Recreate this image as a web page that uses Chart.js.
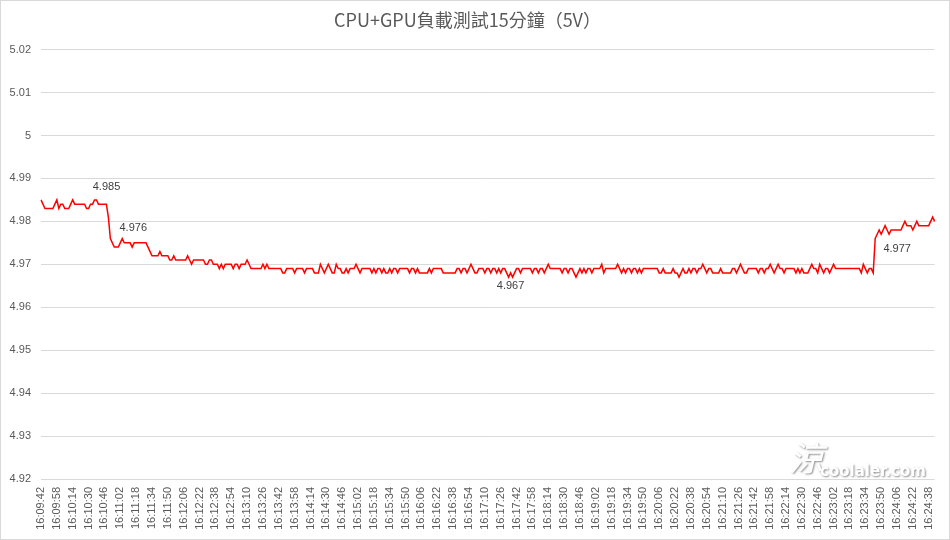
<!DOCTYPE html>
<html>
<head>
<meta charset="utf-8">
<script src="https://cdn.jsdelivr.net/npm/chart.js@4.4.1/dist/chart.umd.min.js"></script>
<style>
  html, body { margin: 0; padding: 0; background: #fff; }
  #wrap { width: 950px; height: 540px; }
</style>
</head>
<body>
<div id="wrap"><canvas id="chart" width="950" height="540"></canvas></div>
<script>
// CPU+GPU 負載測試 5V 電壓曲線

const chartTitle = 'CPU+GPU負載測試15分鐘（5V）';
const startTime = '16:09:42';
const sampleSeconds = 2;
const labelEvery = 8;

// 讀值 (V), 每 2 秒一筆
const voltage = [
    4.985, 4.984, 4.983, 4.983, 4.983, 4.983, 4.983, 4.984, 4.985, 4.983,
    4.984, 4.984, 4.983, 4.983, 4.983, 4.984, 4.985, 4.984, 4.984, 4.984,
    4.984, 4.984, 4.984, 4.983, 4.983, 4.984, 4.984, 4.985, 4.985, 4.984,
    4.984, 4.984, 4.984, 4.984, 4.981, 4.976, 4.975, 4.974, 4.974, 4.974,
    4.975, 4.976, 4.975, 4.975, 4.975, 4.975, 4.974, 4.975, 4.975, 4.975,
    4.975, 4.975, 4.975, 4.975, 4.974, 4.973, 4.972, 4.972, 4.972, 4.972,
    4.973, 4.972, 4.972, 4.972, 4.972, 4.971, 4.971, 4.972, 4.971, 4.971,
    4.971, 4.971, 4.971, 4.971, 4.972, 4.971, 4.970, 4.971, 4.971, 4.971,
    4.971, 4.971, 4.971, 4.970, 4.970, 4.971, 4.971, 4.970, 4.970, 4.970,
    4.969, 4.970, 4.969, 4.970, 4.970, 4.970, 4.970, 4.969, 4.970, 4.970,
    4.969, 4.970, 4.970, 4.970, 4.971, 4.970, 4.969, 4.969, 4.969, 4.969,
    4.969, 4.969, 4.970, 4.969, 4.970, 4.969, 4.969, 4.969, 4.969, 4.969,
    4.969, 4.969, 4.968, 4.968, 4.969, 4.969, 4.969, 4.969, 4.968, 4.969,
    4.969, 4.969, 4.969, 4.968, 4.969, 4.969, 4.969, 4.969, 4.968, 4.968,
    4.968, 4.970, 4.969, 4.968, 4.969, 4.970, 4.969, 4.968, 4.968, 4.970,
    4.969, 4.969, 4.968, 4.968, 4.969, 4.968, 4.969, 4.969, 4.969, 4.970,
    4.969, 4.968, 4.969, 4.969, 4.969, 4.969, 4.969, 4.968, 4.969, 4.968,
    4.969, 4.969, 4.968, 4.969, 4.968, 4.968, 4.969, 4.968, 4.969, 4.969,
    4.968, 4.969, 4.969, 4.969, 4.969, 4.969, 4.968, 4.969, 4.969, 4.968,
    4.969, 4.968, 4.968, 4.968, 4.968, 4.968, 4.969, 4.968, 4.969, 4.969,
    4.969, 4.969, 4.969, 4.968, 4.968, 4.968, 4.968, 4.968, 4.968, 4.968,
    4.969, 4.969, 4.968, 4.969, 4.969, 4.968, 4.969, 4.970, 4.969, 4.968,
    4.968, 4.969, 4.969, 4.969, 4.968, 4.969, 4.969, 4.968, 4.969, 4.969,
    4.968, 4.969, 4.968, 4.969, 4.969, 4.968, 4.967, 4.968, 4.967, 4.968,
    4.969, 4.969, 4.968, 4.969, 4.969, 4.969, 4.969, 4.969, 4.968, 4.969,
    4.969, 4.968, 4.969, 4.969, 4.968, 4.969, 4.970, 4.969, 4.969, 4.969,
    4.969, 4.969, 4.969, 4.968, 4.969, 4.969, 4.968, 4.969, 4.969, 4.968,
    4.967, 4.968, 4.969, 4.968, 4.969, 4.968, 4.969, 4.969, 4.968, 4.969,
    4.969, 4.969, 4.969, 4.970, 4.968, 4.969, 4.969, 4.969, 4.969, 4.969,
    4.969, 4.970, 4.969, 4.968, 4.969, 4.968, 4.969, 4.969, 4.968, 4.969,
    4.969, 4.968, 4.969, 4.968, 4.969, 4.969, 4.969, 4.969, 4.969, 4.969,
    4.969, 4.969, 4.968, 4.968, 4.969, 4.968, 4.968, 4.968, 4.968, 4.969,
    4.968, 4.968, 4.967, 4.968, 4.969, 4.968, 4.968, 4.969, 4.968, 4.969,
    4.969, 4.968, 4.969, 4.969, 4.970, 4.969, 4.968, 4.969, 4.969, 4.968,
    4.968, 4.968, 4.968, 4.969, 4.968, 4.968, 4.968, 4.968, 4.968, 4.969,
    4.969, 4.968, 4.969, 4.970, 4.969, 4.968, 4.968, 4.969, 4.969, 4.969,
    4.969, 4.969, 4.968, 4.969, 4.969, 4.968, 4.969, 4.969, 4.970, 4.969,
    4.968, 4.969, 4.970, 4.969, 4.969, 4.968, 4.969, 4.969, 4.969, 4.969,
    4.969, 4.968, 4.969, 4.968, 4.969, 4.968, 4.968, 4.968, 4.969, 4.970,
    4.969, 4.969, 4.968, 4.970, 4.969, 4.968, 4.969, 4.969, 4.968, 4.969,
    4.970, 4.969, 4.969, 4.969, 4.969, 4.969, 4.969, 4.969, 4.969, 4.969,
    4.969, 4.969, 4.969, 4.969, 4.968, 4.970, 4.969, 4.968, 4.969, 4.969,
    4.968, 4.976, 4.977, 4.978, 4.977, 4.978, 4.979, 4.978, 4.977, 4.978,
    4.978, 4.978, 4.978, 4.978, 4.978, 4.979, 4.980, 4.979, 4.979, 4.979,
    4.978, 4.979, 4.980, 4.979, 4.979, 4.979, 4.979, 4.979, 4.979, 4.980,
    4.981, 4.980
];

// 有標示數值的點 (index)
const labelPoints = [28, 41, 238, 422];

// 時間軸標籤
function buildTimes(start, count, step) {
    const parts = start.split(':').map(Number);
    let t = parts[0] * 3600 + parts[1] * 60 + parts[2];
    const out = [];
    const pad = n => String(n).padStart(2, '0');
    for (let i = 0; i < count; i++) {
        out.push(pad(Math.floor(t / 3600)) + ':' + pad(Math.floor(t / 60) % 60) + ':' + pad(t % 60));
        t += step;
    }
    return out;
}
const times = buildTimes(startTime, voltage.length, sampleSeconds);

const textColor = '#595959';
const gridColor = '#d9d9d9';
const tickFont = { family: "'Liberation Sans', Arial, sans-serif", size: 11 };

// 資料標籤
const pointLabelPlugin = {
    id: 'pointLabels',
    afterDatasetsDraw(chart, args, opts) {
        const meta = chart.getDatasetMeta(0);
        const ctx = chart.ctx;
        ctx.save();
        ctx.font = "11px 'Liberation Sans', Arial, sans-serif";
        ctx.fillStyle = '#404040';
        ctx.textAlign = 'center';
        ctx.textBaseline = 'middle';
        labelPoints.forEach((idx, k) => {
            const pt = meta.data[idx];
            const off = opts.offsets[k];
            ctx.fillText(voltage[idx].toFixed(3), pt.x + off[0], pt.y + off[1]);
        });
        ctx.restore();
    }
};

// 外框 + 浮水印
const framePlugin = {
    id: 'frame',
    beforeDraw(chart) {
        const ctx = chart.ctx;
        ctx.save();
        ctx.fillStyle = '#ffffff';
        ctx.fillRect(0, 0, chart.width, chart.height);
        ctx.restore();
    },
    afterDraw(chart) {
        const ctx = chart.ctx;
        ctx.save();
        ctx.strokeStyle = gridColor;
        ctx.lineWidth = 1;
        ctx.strokeRect(0.5, 0.5, chart.width - 1, chart.height - 1);

        ctx.shadowColor = 'rgba(0,0,0,0.45)';
        ctx.shadowBlur = 2;
        ctx.shadowOffsetX = 1;
        ctx.shadowOffsetY = 1;
        ctx.fillStyle = '#ffffff';
        ctx.font = "italic 34px 'Noto Sans CJK TC', sans-serif";
        ctx.textAlign = 'center';
        ctx.textBaseline = 'middle';
        ctx.fillText('涼', 806, 458);
        ctx.font = "bold 15px 'DejaVu Sans', sans-serif";
        ctx.textAlign = 'left';
        ctx.fillText('coolaler.com', 820, 472);
        ctx.restore();
    }
};

new Chart(document.getElementById('chart'), {
    type: 'line',
    data: {
        labels: times,
        datasets: [{
            data: voltage,
            borderColor: '#ff0000',
            borderWidth: 1.5,
            pointRadius: 0,
            tension: 0,
            fill: false
        }]
    },
    options: {
        responsive: false,
        animation: false,
        layout: { padding: { left: 0, right: 15, top: 0, bottom: 0 } },
        plugins: {
            legend: { display: false },
            tooltip: { enabled: false },
            title: {
                display: true,
                text: chartTitle,
                color: textColor,
                font: { family: "'Noto Sans CJK TC', sans-serif", size: 18, weight: 'normal' },
                padding: { top: 9, bottom: 19 }
            },
            pointLabels: {
                offsets: [[10, -13], [11, -11], [-2, 9], [20, 15]]
            }
        },
        scales: {
            x: {
                offset: false,
                grid: { display: false, drawTicks: false },
                border: { display: false },
                ticks: {
                    autoSkip: false,
                    minRotation: 90,
                    maxRotation: 90,
                    padding: 8,
                    color: textColor,
                    font: tickFont,
                    callback: function (val, index) {
                        return index % labelEvery === 0 ? this.getLabelForValue(val) : null;
                    }
                },
                afterFit(scale) { scale.height = 61; }
            },
            y: {
                min: 4.92,
                max: 5.02,
                grid: { color: gridColor, drawTicks: false },
                border: { display: false },
                ticks: {
                    stepSize: 0.01,
                    padding: 10,
                    color: textColor,
                    font: tickFont,
                    callback: v => String(Number(v.toFixed(3)))
                },
                afterFit(scale) { scale.width = 41; }
            }
        }
    },
    plugins: [pointLabelPlugin, framePlugin]
});
</script>
</body>
</html>
